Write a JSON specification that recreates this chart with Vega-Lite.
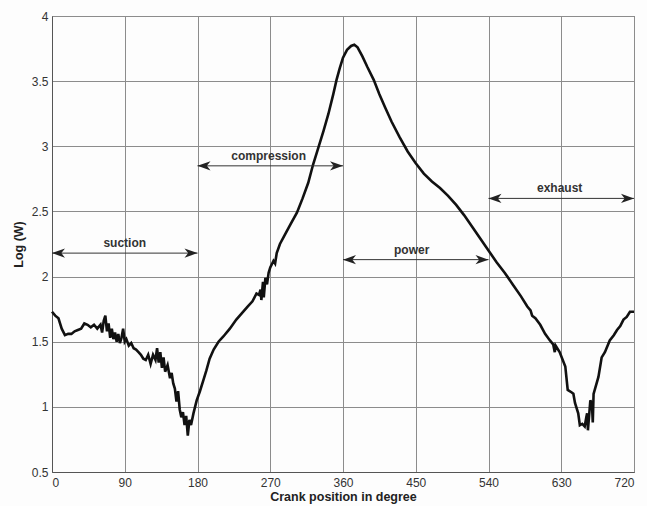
{
  "$schema": "https://vega.github.io/schema/vega-lite/v6.json",
  "width": 582,
  "height": 456,
  "autosize": {"type": "none"},
  "padding": {"left": 52, "top": 16, "right": 13, "bottom": 34},
  "background": "#fdfdfd",
  "config": {
    "font": "Liberation Sans",
    "view": {"stroke": "#555", "strokeWidth": 1},
    "axis": {
      "grid": true,
      "gridColor": "#8c8c8c",
      "gridOpacity": 1,
      "gridWidth": 1,
      "domainColor": "#555",
      "ticks": false,
      "labelFontSize": 12,
      "labelColor": "#333",
      "titleFontSize": 12.5,
      "titleColor": "#222",
      "titleFontWeight": "bold"
    }
  },
  "datasets": {
    "curve": [
      {"deg": 0, "logw": 1.73}, {"deg": 4, "logw": 1.70}, {"deg": 8, "logw": 1.68}, {"deg": 12, "logw": 1.60},
      {"deg": 16, "logw": 1.55}, {"deg": 20, "logw": 1.56}, {"deg": 24, "logw": 1.56}, {"deg": 28, "logw": 1.58},
      {"deg": 32, "logw": 1.59}, {"deg": 36, "logw": 1.60}, {"deg": 40, "logw": 1.64}, {"deg": 44, "logw": 1.63},
      {"deg": 48, "logw": 1.61}, {"deg": 52, "logw": 1.63}, {"deg": 56, "logw": 1.60}, {"deg": 60, "logw": 1.63},
      {"deg": 62, "logw": 1.57}, {"deg": 64, "logw": 1.66}, {"deg": 66, "logw": 1.70}, {"deg": 68, "logw": 1.58},
      {"deg": 70, "logw": 1.64}, {"deg": 72, "logw": 1.53}, {"deg": 74, "logw": 1.60}, {"deg": 76, "logw": 1.52},
      {"deg": 78, "logw": 1.57}, {"deg": 80, "logw": 1.50}, {"deg": 82, "logw": 1.56}, {"deg": 84, "logw": 1.49},
      {"deg": 86, "logw": 1.53}, {"deg": 88, "logw": 1.60}, {"deg": 90, "logw": 1.50}, {"deg": 92, "logw": 1.52},
      {"deg": 95, "logw": 1.47}, {"deg": 98, "logw": 1.49}, {"deg": 101, "logw": 1.45}, {"deg": 104, "logw": 1.44},
      {"deg": 107, "logw": 1.42}, {"deg": 110, "logw": 1.40}, {"deg": 113, "logw": 1.37}, {"deg": 116, "logw": 1.36},
      {"deg": 119, "logw": 1.40}, {"deg": 122, "logw": 1.33}, {"deg": 125, "logw": 1.40}, {"deg": 128, "logw": 1.36},
      {"deg": 130, "logw": 1.45}, {"deg": 132, "logw": 1.34}, {"deg": 134, "logw": 1.42}, {"deg": 136, "logw": 1.30},
      {"deg": 138, "logw": 1.38}, {"deg": 140, "logw": 1.27}, {"deg": 143, "logw": 1.32}, {"deg": 146, "logw": 1.22},
      {"deg": 148, "logw": 1.26}, {"deg": 150, "logw": 1.18}, {"deg": 152, "logw": 1.14}, {"deg": 154, "logw": 1.04},
      {"deg": 156, "logw": 1.12}, {"deg": 158, "logw": 0.98}, {"deg": 160, "logw": 0.92}, {"deg": 162, "logw": 0.96},
      {"deg": 164, "logw": 0.86}, {"deg": 166, "logw": 0.93}, {"deg": 168, "logw": 0.78}, {"deg": 170, "logw": 0.90},
      {"deg": 172, "logw": 0.86}, {"deg": 175, "logw": 0.95}, {"deg": 179, "logw": 1.05}, {"deg": 183, "logw": 1.12},
      {"deg": 187, "logw": 1.20}, {"deg": 191, "logw": 1.28}, {"deg": 195, "logw": 1.37}, {"deg": 200, "logw": 1.44},
      {"deg": 206, "logw": 1.50}, {"deg": 212, "logw": 1.54}, {"deg": 220, "logw": 1.60}, {"deg": 228, "logw": 1.67},
      {"deg": 235, "logw": 1.72}, {"deg": 242, "logw": 1.77}, {"deg": 248, "logw": 1.81}, {"deg": 253, "logw": 1.87},
      {"deg": 256, "logw": 1.86}, {"deg": 258, "logw": 1.90}, {"deg": 259, "logw": 1.82}, {"deg": 261, "logw": 1.96},
      {"deg": 262, "logw": 1.84}, {"deg": 264, "logw": 1.99}, {"deg": 266, "logw": 1.94}, {"deg": 268, "logw": 2.03},
      {"deg": 270, "logw": 2.07}, {"deg": 274, "logw": 2.12}, {"deg": 276, "logw": 2.10}, {"deg": 278, "logw": 2.18},
      {"deg": 282, "logw": 2.25}, {"deg": 288, "logw": 2.32}, {"deg": 295, "logw": 2.40}, {"deg": 303, "logw": 2.49},
      {"deg": 310, "logw": 2.60}, {"deg": 317, "logw": 2.72}, {"deg": 323, "logw": 2.86}, {"deg": 330, "logw": 3.00},
      {"deg": 336, "logw": 3.12}, {"deg": 342, "logw": 3.25}, {"deg": 348, "logw": 3.40}, {"deg": 352, "logw": 3.51},
      {"deg": 356, "logw": 3.60}, {"deg": 360, "logw": 3.68}, {"deg": 365, "logw": 3.74}, {"deg": 370, "logw": 3.77},
      {"deg": 374, "logw": 3.78}, {"deg": 378, "logw": 3.76}, {"deg": 384, "logw": 3.69}, {"deg": 390, "logw": 3.61},
      {"deg": 398, "logw": 3.51}, {"deg": 405, "logw": 3.40}, {"deg": 412, "logw": 3.30}, {"deg": 420, "logw": 3.19},
      {"deg": 430, "logw": 3.07}, {"deg": 440, "logw": 2.96}, {"deg": 450, "logw": 2.87}, {"deg": 460, "logw": 2.79},
      {"deg": 470, "logw": 2.73}, {"deg": 480, "logw": 2.68}, {"deg": 490, "logw": 2.62}, {"deg": 500, "logw": 2.55},
      {"deg": 510, "logw": 2.47}, {"deg": 520, "logw": 2.38}, {"deg": 530, "logw": 2.29}, {"deg": 540, "logw": 2.20},
      {"deg": 550, "logw": 2.11}, {"deg": 560, "logw": 2.03}, {"deg": 570, "logw": 1.94}, {"deg": 580, "logw": 1.85},
      {"deg": 588, "logw": 1.77}, {"deg": 592, "logw": 1.74}, {"deg": 594, "logw": 1.70}, {"deg": 598, "logw": 1.68},
      {"deg": 604, "logw": 1.63}, {"deg": 610, "logw": 1.56}, {"deg": 616, "logw": 1.51}, {"deg": 620, "logw": 1.48},
      {"deg": 622, "logw": 1.42}, {"deg": 623, "logw": 1.47}, {"deg": 628, "logw": 1.42}, {"deg": 635, "logw": 1.31},
      {"deg": 638, "logw": 1.13}, {"deg": 643, "logw": 1.11}, {"deg": 645, "logw": 1.10}, {"deg": 647, "logw": 1.03},
      {"deg": 651, "logw": 0.95}, {"deg": 653, "logw": 0.86}, {"deg": 656, "logw": 0.87}, {"deg": 659, "logw": 0.85},
      {"deg": 661, "logw": 0.92}, {"deg": 662, "logw": 0.95}, {"deg": 663, "logw": 0.82}, {"deg": 666, "logw": 1.05},
      {"deg": 668, "logw": 1.02}, {"deg": 669, "logw": 0.88}, {"deg": 670, "logw": 1.10}, {"deg": 676, "logw": 1.23},
      {"deg": 680, "logw": 1.38}, {"deg": 684, "logw": 1.42}, {"deg": 690, "logw": 1.51}, {"deg": 695, "logw": 1.55},
      {"deg": 699, "logw": 1.59}, {"deg": 703, "logw": 1.62}, {"deg": 707, "logw": 1.67}, {"deg": 711, "logw": 1.69},
      {"deg": 715, "logw": 1.73}, {"deg": 720, "logw": 1.73}
    ],
    "strokes": [
      {"stroke": "suction", "start": 0, "end": 180, "mid": 90, "level": 2.18},
      {"stroke": "compression", "start": 180, "end": 360, "mid": 268, "level": 2.85},
      {"stroke": "power", "start": 360, "end": 540, "mid": 445, "level": 2.13},
      {"stroke": "exhaust", "start": 540, "end": 720, "mid": 628, "level": 2.60}
    ]
  },
  "layer": [
    {
      "data": {"name": "curve"},
      "mark": {"type": "line", "color": "#111", "strokeWidth": 2.6, "strokeJoin": "miter"},
      "encoding": {
        "x": {
          "field": "deg", "type": "quantitative",
          "scale": {"domain": [0, 720], "nice": false},
          "axis": {"values": [0, 90, 180, 270, 360, 450, 540, 630, 720], "title": "Crank position in degree", "labelPadding": 5, "titlePadding": 2}
        },
        "y": {
          "field": "logw", "type": "quantitative",
          "scale": {"domain": [0.5, 4], "nice": false},
          "axis": {"values": [0.5, 1, 1.5, 2, 2.5, 3, 3.5, 4], "format": "~g", "title": "Log (W)", "labelPadding": 4, "titlePadding": 6}
        }
      }
    },
    {
      "data": {"name": "strokes"},
      "mark": {"type": "rule", "color": "#333", "strokeWidth": 1},
      "encoding": {
        "x": {"field": "start", "type": "quantitative"},
        "x2": {"field": "end"},
        "y": {"field": "level", "type": "quantitative"}
      }
    },
    {
      "data": {"name": "strokes"},
      "mark": {"type": "point", "shape": "M0,0L1,-0.36L0.72,0L1,0.36Z", "size": 676, "filled": true, "color": "#222", "opacity": 1},
      "encoding": {
        "x": {"field": "start", "type": "quantitative"},
        "y": {"field": "level", "type": "quantitative"}
      }
    },
    {
      "data": {"name": "strokes"},
      "mark": {"type": "point", "shape": "M0,0L-1,-0.36L-0.72,0L-1,0.36Z", "size": 676, "filled": true, "color": "#222", "opacity": 1},
      "encoding": {
        "x": {"field": "end", "type": "quantitative"},
        "y": {"field": "level", "type": "quantitative"}
      }
    },
    {
      "data": {"name": "strokes"},
      "mark": {"type": "text", "dy": -10, "fontSize": 12, "fontWeight": "bold", "color": "#333"},
      "encoding": {
        "x": {"field": "mid", "type": "quantitative"},
        "y": {"field": "level", "type": "quantitative"},
        "text": {"field": "stroke"}
      }
    }
  ]
}
